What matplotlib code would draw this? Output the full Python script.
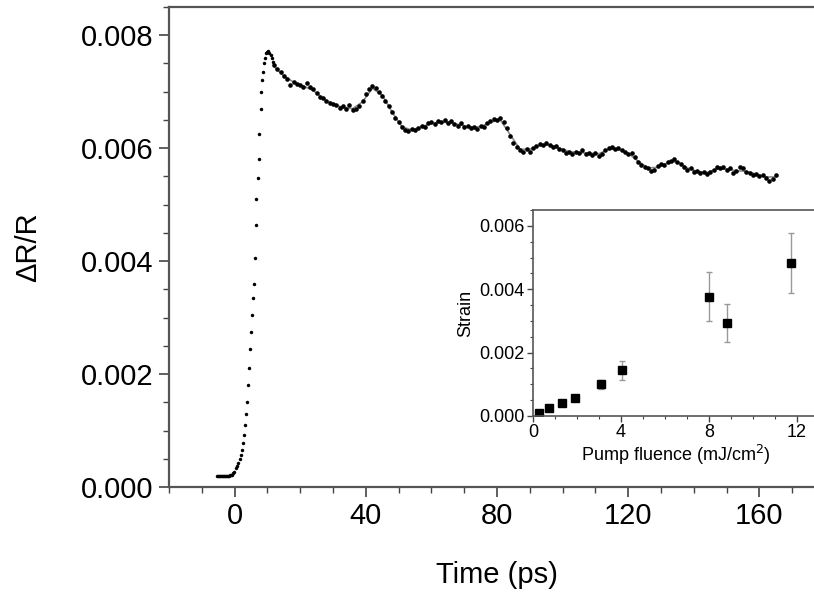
import numpy as np
import matplotlib.pyplot as plt
from matplotlib.ticker import MultipleLocator

plt.rcParams['font.family'] = ['Liberation Sans', 'DejaVu Sans']

# main trace: baseline + rise (sampled ~0.3 ps)
t_early = [-5.3, -5.0, -4.7, -4.4, -4.1, -3.8, -3.5, -3.2, -2.9, -2.6, -2.3, -2.0,
           -1.7, -1.4, -1.1, -0.8, -0.5, -0.2, 0.3, 0.8, 1.1, 1.6, 2.0, 2.3, 2.5, 2.8,
           3.1, 3.4, 3.7, 4.0, 4.3, 4.6, 4.9, 5.2, 5.5, 5.8, 6.1, 6.4, 6.6, 7.0, 7.3,
           7.5, 7.9, 8.2, 8.5, 8.8, 9.1, 9.4, 9.7, 10.0, 10.3, 10.6, 11.0, 11.3, 11.6]
dr_early = [0.00020, 0.00019, 0.00020, 0.00019, 0.00020, 0.00019, 0.00020, 0.00019,
            0.00020, 0.00019, 0.00020, 0.00020, 0.00020, 0.00021, 0.00021, 0.00022,
            0.00024, 0.00027, 0.00033, 0.00038, 0.00042, 0.00049, 0.00057, 0.00065,
            0.00077, 0.00092, 0.00110, 0.00130, 0.00150, 0.00180, 0.00210, 0.00245,
            0.00275, 0.00305, 0.00335, 0.00360, 0.00405, 0.00464, 0.00510, 0.00547,
            0.00580, 0.00625, 0.00669, 0.00700, 0.00720, 0.00735, 0.00750, 0.00760,
            0.00768, 0.00770, 0.00772, 0.00768, 0.00765, 0.00760, 0.00752]

# main trace: 12 ps .. 165 ps, 1 ps steps
t_late = np.arange(12, 166, 1.0)
dr_late = [
    0.00748, 0.00740, 0.00735, 0.00728, 0.00722, 0.00712, 0.00718, 0.00714, 0.00712, 0.00708,
    0.00716, 0.00709, 0.00704, 0.00698, 0.00690, 0.00688, 0.00684, 0.00680, 0.00678, 0.00676,
    0.00672, 0.00674, 0.00670, 0.00676, 0.00668, 0.00670, 0.00674, 0.00684, 0.00696, 0.00704,
    0.00710, 0.00706, 0.00700, 0.00692, 0.00684, 0.00674, 0.00664, 0.00654, 0.00646, 0.00638,
    0.00632, 0.00630, 0.00634, 0.00632, 0.00636, 0.00640, 0.00638, 0.00644, 0.00646, 0.00642,
    0.00648, 0.00646, 0.00650, 0.00644, 0.00648, 0.00642, 0.00640, 0.00644, 0.00638, 0.00640,
    0.00636, 0.00638, 0.00634, 0.00640, 0.00638, 0.00644, 0.00648, 0.00652, 0.00650, 0.00654,
    0.00646, 0.00636, 0.00622, 0.00610, 0.00602, 0.00596, 0.00594, 0.00598, 0.00594, 0.00600,
    0.00604, 0.00608, 0.00606, 0.00610, 0.00606, 0.00602, 0.00604, 0.00598, 0.00596, 0.00592,
    0.00594, 0.00590, 0.00594, 0.00592, 0.00596, 0.00590, 0.00592, 0.00588, 0.00592, 0.00586,
    0.00590, 0.00596, 0.00600, 0.00602, 0.00598, 0.00600, 0.00596, 0.00594, 0.00590, 0.00592,
    0.00584, 0.00576, 0.00570, 0.00566, 0.00564, 0.00560, 0.00562, 0.00568, 0.00572, 0.00570,
    0.00576, 0.00578, 0.00580, 0.00576, 0.00572, 0.00566, 0.00562, 0.00564, 0.00558, 0.00560,
    0.00556, 0.00558, 0.00554, 0.00558, 0.00562, 0.00566, 0.00564, 0.00566, 0.00562, 0.00564,
    0.00556, 0.00560, 0.00566, 0.00564, 0.00558, 0.00556, 0.00552, 0.00554, 0.00550, 0.00552,
    0.00548, 0.00542, 0.00546, 0.00552]

# fitted curve (thin grey line)
fit_t = [12, 15, 18, 21, 24, 27, 30, 33, 36, 39, 42, 45, 48, 51, 54, 57, 60, 63, 66, 69,
         72, 75, 78, 81, 84, 87, 90, 93, 96, 99, 102, 105, 108, 111, 114, 117, 120, 123,
         126, 129, 132, 135, 138, 141, 144, 147, 150, 153, 156, 159, 162, 165]
fit_dr = [0.00745, 0.00728, 0.00717, 0.00710, 0.00702, 0.00688, 0.00678, 0.00672, 0.00670,
          0.00682, 0.00706, 0.00694, 0.00664, 0.00638, 0.00632, 0.00638, 0.00644, 0.00646,
          0.00645, 0.00641, 0.00637, 0.00638, 0.00646, 0.00650, 0.00624, 0.00598, 0.00598,
          0.00605, 0.00606, 0.00600, 0.00594, 0.00592, 0.00591, 0.00590, 0.00598, 0.00598,
          0.00591, 0.00577, 0.00565, 0.00566, 0.00574, 0.00576, 0.00565, 0.00559, 0.00557,
          0.00563, 0.00563, 0.00560, 0.00559, 0.00554, 0.00549, 0.00549]

# inset: strain vs pump fluence
fluence = [0.29, 0.74, 1.30, 1.91, 3.08, 4.05, 7.98, 8.80, 11.71]
strain = [0.00008, 0.00024, 0.00040, 0.00058, 0.00100, 0.00144, 0.00377, 0.00293, 0.00482]
strain_err = [0.00003, 0.00004, 0.00005, 0.00006, 0.00015, 0.00030, 0.00077, 0.00060, 0.00095]

fig = plt.figure(figsize=(8.14, 5.93), dpi=100)
ax = fig.add_axes([0.2076, 0.1788, 0.806, 0.8094])

ax.plot(fit_t, fit_dr, color='#8c8c8c', lw=1.2, zorder=1)
ax.plot(t_early, dr_early, 'o', color='black', ms=2.5, mec='none', zorder=2)
ax.plot(t_late, dr_late, 'o', color='black', ms=3.3, mec='none', zorder=2)

ax.set_xlim(-20, 180)
ax.set_ylim(0, 0.0085)
ax.xaxis.set_major_locator(MultipleLocator(40))
ax.xaxis.set_minor_locator(MultipleLocator(10))
ax.yaxis.set_major_locator(MultipleLocator(0.002))
ax.yaxis.set_minor_locator(MultipleLocator(0.0005))
ax.yaxis.set_major_formatter(plt.FormatStrFormatter('%.3f'))
ax.tick_params(which='major', length=7, width=1.2, labelsize=21, color='#444444', pad=4)
ax.tick_params(which='minor', length=4, width=1.0, color='#444444')
for s in ax.spines.values():
    s.set_color('#555555')
    s.set_linewidth(1.6)
ax.set_xlabel('Time (ps)', fontsize=21, labelpad=22)
ax.set_ylabel('ΔR/R', fontsize=21, labelpad=28)

ins = fig.add_axes([0.6548, 0.2985, 0.3514, 0.3474])
ins.errorbar(fluence, strain, yerr=strain_err, fmt='s', color='black', ms=6,
             ecolor='#999999', elinewidth=1.0, capsize=2.5, capthick=1.0)
ins.set_xlim(0, 13)
ins.set_ylim(0, 0.0065)
ins.xaxis.set_major_locator(MultipleLocator(4))
ins.xaxis.set_minor_locator(MultipleLocator(1))
ins.yaxis.set_major_locator(MultipleLocator(0.002))
ins.yaxis.set_minor_locator(MultipleLocator(0.0005))
ins.yaxis.set_major_formatter(plt.FormatStrFormatter('%.3f'))
ins.tick_params(which='major', length=4, width=1.0, labelsize=13, color='#444444', pad=2)
ins.tick_params(which='minor', length=2.5, width=0.8, color='#444444')
for s in ins.spines.values():
    s.set_color('#555555')
    s.set_linewidth(1.2)
ins.set_xlabel('Pump fluence (mJ/cm$^2$)', fontsize=13, labelpad=1)
ins.set_ylabel('Strain', fontsize=13, labelpad=4)

fig.savefig('out.png', dpi=100)
